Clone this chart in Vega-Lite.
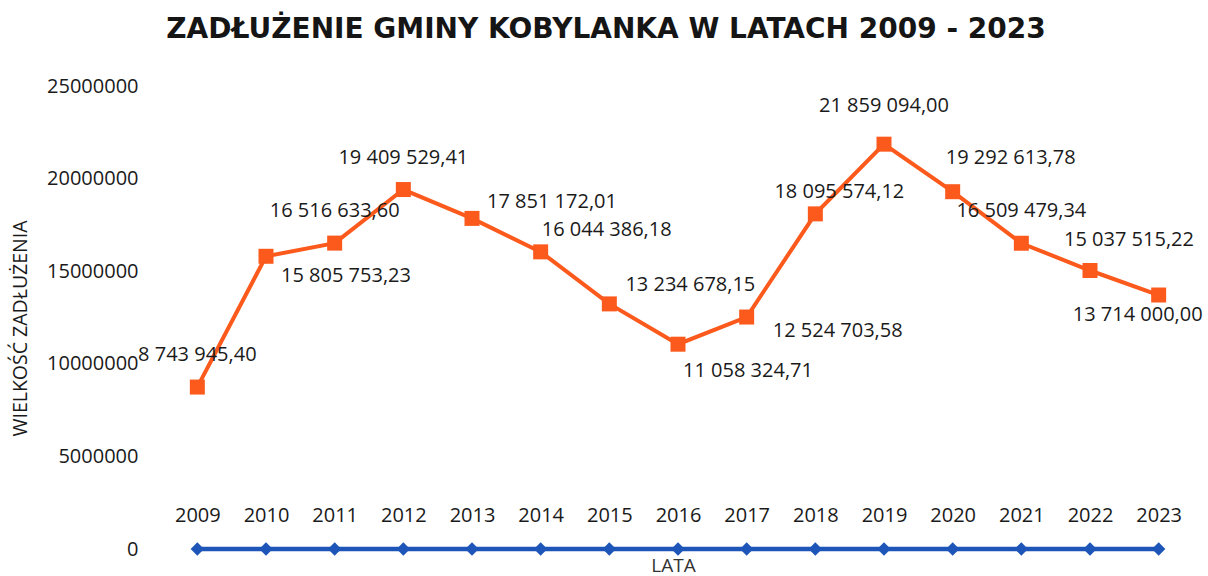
{
  "$schema": "https://vega.github.io/schema/vega-lite/v6.json",
  "autosize": "none",
  "width": 1030,
  "height": 463,
  "padding": {"left": 163, "top": 86, "right": 15, "bottom": 27},
  "background": "white",
  "config": {
    "locale": {"number": {"decimal": ",", "thousands": " ", "grouping": [3], "currency": ["", ""]}},
    "view": {"stroke": null},
    "font": "Open Sans"
  },
  "title": {
    "text": "ZADŁUŻENIE GMINY KOBYLANKA W LATACH 2009 - 2023",
    "font": "DejaVu Sans",
    "fontSize": 28,
    "fontWeight": "bold",
    "color": "#151515",
    "offset": 32,
    "dx": -72
  },
  "data": {
    "values": [
      {"rok": "2009", "zadluzenie": 8743945.40, "lata": 2009},
      {"rok": "2010", "zadluzenie": 15805753.23, "lata": 2010},
      {"rok": "2011", "zadluzenie": 16516633.60, "lata": 2011},
      {"rok": "2012", "zadluzenie": 19409529.41, "lata": 2012},
      {"rok": "2013", "zadluzenie": 17851172.01, "lata": 2013},
      {"rok": "2014", "zadluzenie": 16044386.18, "lata": 2014},
      {"rok": "2015", "zadluzenie": 13234678.15, "lata": 2015},
      {"rok": "2016", "zadluzenie": 11058324.71, "lata": 2016},
      {"rok": "2017", "zadluzenie": 12524703.58, "lata": 2017},
      {"rok": "2018", "zadluzenie": 18095574.12, "lata": 2018},
      {"rok": "2019", "zadluzenie": 21859094.00, "lata": 2019},
      {"rok": "2020", "zadluzenie": 19292613.78, "lata": 2020},
      {"rok": "2021", "zadluzenie": 16509479.34, "lata": 2021},
      {"rok": "2022", "zadluzenie": 15037515.22, "lata": 2022},
      {"rok": "2023", "zadluzenie": 13714000.00, "lata": 2023}
    ]
  },
  "encoding": {
    "x": {
      "field": "rok", "type": "ordinal",
      "scale": {"type": "point", "padding": 0.5},
      "axis": {
        "title": "LATA", "labelAngle": 0, "domain": false, "ticks": false,
        "labelPadding": -44, "labelFontSize": 20, "labelColor": "#1a1a1a", "labelFont": "Open Sans",
        "titleFontSize": 19, "titleFontWeight": "normal", "titleColor": "#333", "titleFont": "Open Sans",
        "titleY": 16, "titleBaseline": "middle", "titleX": 510
      }
    }
  },
  "layer": [
    {
      "mark": {"type": "line", "color": "#1d55b8", "strokeWidth": 4.5,
        "point": {"shape": "diamond", "size": 180, "filled": true, "color": "#1d55b8"}},
      "encoding": {"y": {"field": "lata", "type": "quantitative"}}
    },
    {
      "mark": {"type": "line", "color": "#fb5a1c", "strokeWidth": 4,
        "point": {"shape": "square", "size": 225, "filled": true, "color": "#fb5a1c"}},
      "encoding": {
        "y": {
          "field": "zadluzenie", "type": "quantitative",
          "scale": {"domain": [0, 25000000], "nice": false},
          "axis": {
            "values": [0, 5000000, 10000000, 15000000, 20000000, 25000000],
            "format": "d", "grid": false, "domain": false, "ticks": false,
            "labelPadding": 25, "labelFontSize": 20, "labelColor": "#1a1a1a", "labelFont": "Open Sans",
            "title": "WIELKOŚĆ ZADŁUŻENIA", "titleFontSize": 19.5, "titleFontWeight": "normal",
            "titleColor": "#1a1a1a", "titleFont": "Open Sans",
            "titleX": -143, "titleY": 242, "titleAngle": -90, "titleAlign": "center", "titleBaseline": "middle"
          }
        }
      }
    },
    {
      "transform": [{"filter": {"field": "rok", "oneOf": ["2009", "2011", "2012", "2021"]}}],
      "mark": {"type": "text", "fontSize": 20, "color": "#1a1a1a", "dx": 0, "dy": -32},
      "encoding": {"y": {"field": "zadluzenie", "type": "quantitative"}, "text": {"field": "zadluzenie", "format": ",.2f"}}
    },
    {
      "transform": [{"filter": {"field": "rok", "equal": "2019"}}],
      "mark": {"type": "text", "fontSize": 20, "color": "#1a1a1a", "dx": 0, "dy": -38},
      "encoding": {"y": {"field": "zadluzenie", "type": "quantitative"}, "text": {"field": "zadluzenie", "format": ",.2f"}}
    },
    {
      "transform": [{"filter": {"field": "rok", "equal": "2010"}}],
      "mark": {"type": "text", "fontSize": 20, "color": "#1a1a1a", "dx": 80, "dy": 20},
      "encoding": {"y": {"field": "zadluzenie", "type": "quantitative"}, "text": {"field": "zadluzenie", "format": ",.2f"}}
    },
    {
      "transform": [{"filter": {"field": "rok", "equal": "2013"}}],
      "mark": {"type": "text", "fontSize": 20, "color": "#1a1a1a", "dx": 80, "dy": -16},
      "encoding": {"y": {"field": "zadluzenie", "type": "quantitative"}, "text": {"field": "zadluzenie", "format": ",.2f"}}
    },
    {
      "transform": [{"filter": {"field": "rok", "equal": "2014"}}],
      "mark": {"type": "text", "fontSize": 20, "color": "#1a1a1a", "dx": 66, "dy": -22},
      "encoding": {"y": {"field": "zadluzenie", "type": "quantitative"}, "text": {"field": "zadluzenie", "format": ",.2f"}}
    },
    {
      "transform": [{"filter": {"field": "rok", "equal": "2015"}}],
      "mark": {"type": "text", "fontSize": 20, "color": "#1a1a1a", "dx": 81, "dy": -19},
      "encoding": {"y": {"field": "zadluzenie", "type": "quantitative"}, "text": {"field": "zadluzenie", "format": ",.2f"}}
    },
    {
      "transform": [{"filter": {"field": "rok", "equal": "2016"}}],
      "mark": {"type": "text", "fontSize": 20, "color": "#1a1a1a", "dx": 70, "dy": 27},
      "encoding": {"y": {"field": "zadluzenie", "type": "quantitative"}, "text": {"field": "zadluzenie", "format": ",.2f"}}
    },
    {
      "transform": [{"filter": {"field": "rok", "equal": "2017"}}],
      "mark": {"type": "text", "fontSize": 20, "color": "#1a1a1a", "dx": 91, "dy": 14},
      "encoding": {"y": {"field": "zadluzenie", "type": "quantitative"}, "text": {"field": "zadluzenie", "format": ",.2f"}}
    },
    {
      "transform": [{"filter": {"field": "rok", "equal": "2018"}}],
      "mark": {"type": "text", "fontSize": 20, "color": "#1a1a1a", "dx": 24, "dy": -22},
      "encoding": {"y": {"field": "zadluzenie", "type": "quantitative"}, "text": {"field": "zadluzenie", "format": ",.2f"}}
    },
    {
      "transform": [{"filter": {"field": "rok", "equal": "2020"}}],
      "mark": {"type": "text", "fontSize": 20, "color": "#1a1a1a", "dx": 58, "dy": -34},
      "encoding": {"y": {"field": "zadluzenie", "type": "quantitative"}, "text": {"field": "zadluzenie", "format": ",.2f"}}
    },
    {
      "transform": [{"filter": {"field": "rok", "equal": "2022"}}],
      "mark": {"type": "text", "fontSize": 20, "color": "#1a1a1a", "dx": 39, "dy": -31},
      "encoding": {"y": {"field": "zadluzenie", "type": "quantitative"}, "text": {"field": "zadluzenie", "format": ",.2f"}}
    },
    {
      "transform": [{"filter": {"field": "rok", "equal": "2023"}}],
      "mark": {"type": "text", "fontSize": 20, "color": "#1a1a1a", "dx": -21, "dy": 20},
      "encoding": {"y": {"field": "zadluzenie", "type": "quantitative"}, "text": {"field": "zadluzenie", "format": ",.2f"}}
    }
  ],
  "resolve": {"scale": {"y": "shared"}}
}
